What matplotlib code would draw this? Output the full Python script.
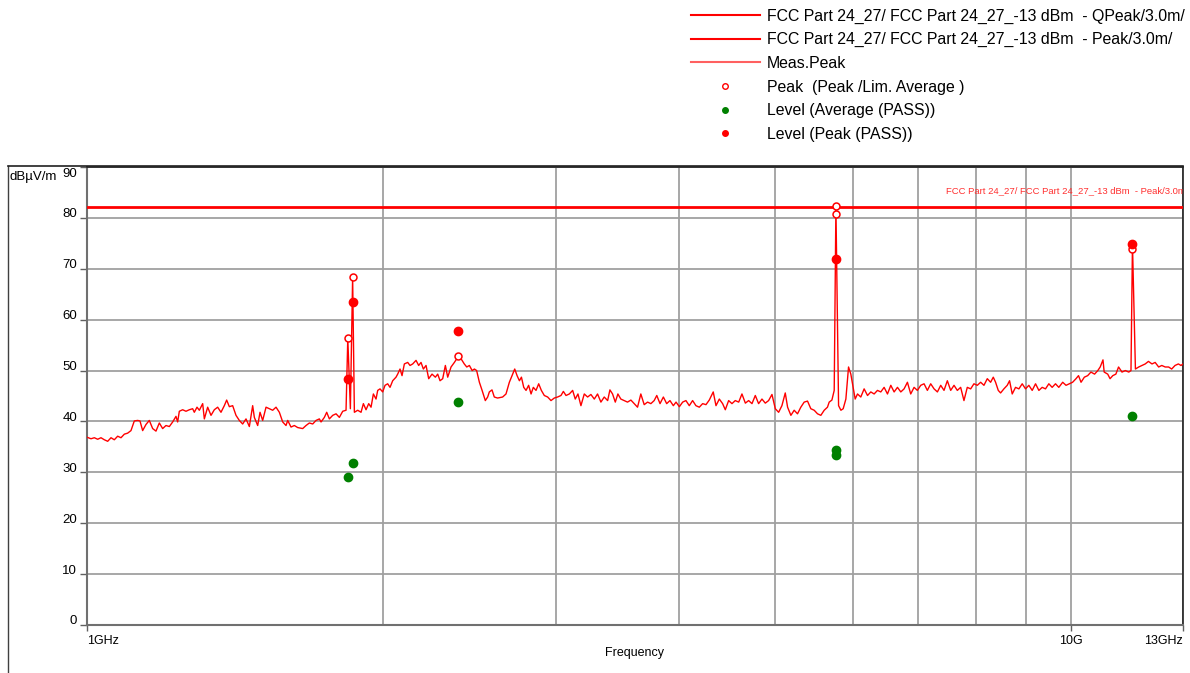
import matplotlib
matplotlib.use("Agg")
import matplotlib.pyplot as plt
import matplotlib.transforms as mtransforms
from matplotlib.lines import Line2D
import numpy as np

plt.rcParams['font.family'] = ['Liberation Sans', 'DejaVu Sans']

freq = [1.000, 1.0094, 1.0173, 1.0253, 1.0333, 1.0414, 1.0496, 1.0578, 1.0660, 1.0744,
        1.0828, 1.0913, 1.0998, 1.1084, 1.1171, 1.1259, 1.1320, 1.1391, 1.1480, 1.1570,
        1.1661, 1.1752, 1.1844, 1.1937, 1.2030, 1.2125, 1.2220, 1.2315, 1.2363, 1.2412,
        1.2509, 1.2607, 1.2706, 1.2805, 1.2855, 1.2936, 1.3007, 1.3109, 1.3160, 1.3263,
        1.3367, 1.3471, 1.3577, 1.3683, 1.3790, 1.3866, 1.3953, 1.4062, 1.4172, 1.4283,
        1.4395, 1.4508, 1.4622, 1.4736, 1.4794, 1.4910, 1.4992, 1.5085, 1.5204, 1.5323,
        1.5443, 1.5564, 1.5686, 1.5809, 1.5932, 1.5995, 1.6120, 1.6246, 1.6373, 1.6566,
        1.6696, 1.6827, 1.6959, 1.7092, 1.7225, 1.7293, 1.7428, 1.7524, 1.7633, 1.7772,
        1.7911, 1.8051, 1.8193, 1.8335, 1.8410, 1.8522, 1.8620, 1.8696, 1.8842, 1.8990,
        1.9094, 1.9213, 1.9334, 1.9440, 1.9546, 1.9668, 1.9745, 1.9853, 1.9977, 2.0087,
        2.0212, 2.0323, 2.0450, 2.0610, 2.0690, 2.0804, 2.0902, 2.1016, 2.1181, 2.1297,
        2.1430, 2.1598, 2.1733, 2.1852, 2.1972, 2.2110, 2.2248, 2.2422, 2.2598, 2.2722,
        2.2846, 2.2989, 2.3133, 2.3260, 2.3442, 2.3626, 2.3811, 2.400, 2.418, 2.432,
        2.447, 2.463, 2.476, 2.489, 2.505, 2.521, 2.540, 2.554, 2.564, 2.580,
        2.594, 2.614, 2.645, 2.666, 2.687, 2.704, 2.721, 2.736, 2.751, 2.764,
        2.779, 2.794, 2.811, 2.827, 2.842, 2.860, 2.878, 2.896, 2.916, 2.939,
        2.962, 2.985, 3.008, 3.032, 3.049, 3.068, 3.092, 3.116, 3.135, 3.155,
        3.177, 3.202, 3.227, 3.252, 3.278, 3.303, 3.329, 3.355, 3.382, 3.400,
        3.421, 3.443, 3.464, 3.488, 3.515, 3.543, 3.571, 3.599, 3.627, 3.655,
        3.684, 3.713, 3.742, 3.771, 3.794, 3.823, 3.853, 3.883, 3.913, 3.944,
        3.969, 4.000, 4.031, 4.062, 4.094, 4.126, 4.158, 4.191, 4.224, 4.257,
        4.290, 4.330, 4.358, 4.392, 4.426, 4.454, 4.489, 4.524, 4.559, 4.596,
        4.631, 4.668, 4.704, 4.741, 4.778, 4.815, 4.853, 4.891, 4.929, 4.968,
        5.007, 5.046, 5.085, 5.125, 5.153, 5.193, 5.233, 5.274, 5.315, 5.357,
        5.399, 5.441, 5.484, 5.527, 5.570, 5.614, 5.657, 5.680, 5.716, 5.747,
        5.770, 5.806, 5.838, 5.869, 5.906, 5.943, 5.975, 5.999, 6.036, 6.069,
        6.116, 6.164, 6.213, 6.261, 6.310, 6.359, 6.409, 6.459, 6.510, 6.561,
        6.612, 6.664, 6.716, 6.768, 6.821, 6.874, 6.928, 6.982, 7.037, 7.092,
        7.147, 7.203, 7.260, 7.317, 7.374, 7.431, 7.489, 7.548, 7.607, 7.666,
        7.726, 7.786, 7.847, 7.909, 7.970, 8.033, 8.096, 8.159, 8.223, 8.287,
        8.339, 8.384, 8.437, 8.483, 8.549, 8.616, 8.663, 8.717, 8.785, 8.854,
        8.923, 8.993, 9.063, 9.134, 9.206, 9.278, 9.350, 9.423, 9.497, 9.571,
        9.646, 9.721, 9.810, 9.887, 9.964, 10.04, 10.12, 10.18, 10.24, 10.32,
        10.40, 10.48, 10.57, 10.65, 10.71, 10.78, 10.81, 10.90, 10.96, 11.03,
        11.11, 11.18, 11.27, 11.36, 11.45, 11.51, 11.55, 11.63, 11.72, 11.81,
        11.90, 11.99, 12.09, 12.18, 12.28, 12.37, 12.47, 12.57, 12.66, 12.76,
        12.86, 12.94, 13.00]
level = [36.9, 36.6, 36.8, 36.5, 36.8, 36.4, 36.1, 36.8, 36.4, 37.1,
         36.8, 37.5, 37.7, 38.2, 40.1, 40.2, 40.1, 38.2, 39.4, 40.2,
         38.6, 38.1, 39.7, 38.6, 39.2, 39.0, 39.9, 41.0, 39.9, 42.0,
         42.3, 42.0, 42.3, 42.5, 41.8, 42.8, 42.2, 43.5, 40.5, 42.8,
         41.2, 42.3, 42.8, 41.8, 43.1, 44.2, 42.9, 43.1, 41.2, 40.2,
         39.5, 40.5, 39.0, 43.1, 40.8, 39.2, 41.8, 40.2, 42.8, 42.5,
         42.2, 42.8, 41.8, 39.9, 39.2, 40.2, 38.9, 39.2, 38.8, 38.6,
         39.2, 39.7, 39.5, 40.2, 40.5, 39.9, 40.8, 41.8, 40.5, 41.2,
         41.5, 40.8, 42.0, 42.2, 56.3, 42.5, 68.4, 41.8, 42.2, 41.8,
         43.5, 42.3, 43.5, 42.8, 45.4, 44.4, 46.1, 46.4, 45.8, 47.1,
         47.4, 46.7, 48.0, 48.7, 49.3, 50.3, 49.0, 51.3, 51.6, 51.0,
         51.3, 52.0, 51.0, 51.6, 50.3, 51.0, 48.4, 49.3, 48.7, 49.3,
         48.0, 48.4, 51.0, 48.7, 50.7, 51.6, 52.6, 52.3, 51.3, 50.7,
         51.0, 50.0, 50.3, 50.0, 47.7, 46.1, 44.1, 44.8, 45.8, 46.2,
         44.8, 44.6, 44.8, 45.4, 47.7, 49.0, 50.3, 49.0, 48.0, 48.7,
         46.7, 46.1, 47.1, 45.4, 46.7, 46.1, 47.4, 46.1, 45.1, 44.8,
         44.1, 44.6, 44.8, 45.1, 45.9, 45.1, 45.4, 46.1, 44.4, 45.4,
         43.1, 45.4, 44.8, 45.3, 44.4, 45.4, 43.8, 44.8, 44.1, 46.2,
         45.4, 43.8, 45.4, 44.4, 44.1, 43.8, 44.2, 43.5, 42.8, 45.4,
         43.3, 43.8, 43.5, 44.1, 45.1, 43.5, 44.8, 43.5, 44.1, 43.1,
         43.8, 42.9, 43.8, 44.1, 43.1, 44.1, 43.1, 42.8, 43.5, 43.3,
         44.2, 45.8, 43.1, 44.4, 43.5, 42.3, 44.1, 43.5, 44.1, 43.8,
         45.4, 43.6, 44.1, 43.5, 45.1, 43.5, 44.4, 43.6, 44.1, 45.3,
         42.5, 41.8, 43.1, 45.6, 42.8, 41.2, 42.2, 41.5, 42.8, 43.8,
         44.0, 42.5, 42.2, 41.5, 41.2, 42.2, 42.8, 43.8, 44.2, 46.1,
         82.3, 43.1, 42.2, 42.5, 44.4, 50.7, 49.3, 47.4, 44.4, 45.4,
         44.8, 46.4, 45.1, 45.8, 45.4, 46.1, 45.8, 46.7, 45.4, 47.1,
         45.8, 46.7, 45.8, 46.4, 47.7, 45.4, 46.7, 46.1, 47.1, 47.4,
         46.1, 47.4, 46.4, 45.8, 47.1, 46.1, 48.0, 46.1, 47.1, 46.1,
         46.7, 44.1, 46.7, 46.4, 47.4, 47.1, 47.7, 47.1, 48.4, 47.7,
         48.7, 47.7, 46.1, 45.6, 46.4, 47.1, 48.0, 45.4, 46.7, 46.4,
         47.4, 46.4, 47.1, 46.1, 47.4, 46.1, 46.7, 46.4, 47.4, 46.7,
         47.4, 46.7, 47.7, 47.1, 47.4, 47.7, 48.4, 49.0, 47.7, 48.7,
         49.0, 49.7, 49.3, 50.0, 50.7, 52.1, 49.7, 49.3, 48.4, 49.0,
         49.3, 50.7, 49.7, 50.0, 49.7, 50.0, 74.9, 50.3, 50.7, 51.0,
         51.3, 51.8, 51.3, 51.6, 50.7, 51.0, 50.7, 50.7, 50.3, 51.0,
         51.3, 51.0, 51.3]

limit_level = 82.2

# final measurement points
pk_freq = [1.841, 1.862, 2.383, 5.770, 5.770, 11.55]
pk_level = [56.3, 68.4, 52.8, 82.3, 80.7, 73.9]
lvl_pk_freq = [1.841, 1.862, 2.383, 5.770, 11.55]
lvl_pk_level = [48.3, 63.5, 57.7, 71.9, 74.9]
lvl_av_freq = [1.841, 1.862, 2.383, 5.770, 5.770, 11.55]
lvl_av_level = [29.0, 31.8, 43.9, 34.3, 33.5, 41.1]

legend_labels = ['FCC Part 24_27/ FCC Part 24_27_-13 dBm  - QPeak/3.0m/',
                 'FCC Part 24_27/ FCC Part 24_27_-13 dBm  - Peak/3.0m/',
                 'Meas.Peak',
                 'Peak  (Peak /Lim. Average )',
                 'Level (Average (PASS))',
                 'Level (Peak (PASS))']

fig = plt.figure(figsize=(11.9, 6.73), dpi=100)
ax = fig.add_axes([87/1190, 1-625/673, (1183-87)/1190, (625-167)/673])

ax.set_xscale('log')
ax.set_xlim(1, 13)
ax.set_ylim(0, 90)

ax.set_yticks(np.arange(0, 91, 10))
ax.set_xticks([1, 10, 13])
ax.set_xticklabels(['1GHz', '10G', '13GHz'])
ax.set_xticks([2, 3, 4, 5, 6, 7, 8, 9], minor=True)
ax.xaxis.set_minor_formatter(plt.NullFormatter())
for lab, ha in zip(ax.get_xticklabels(), ['left', 'center', 'right']):
    lab.set_ha(ha)
ax.tick_params(axis='x', which='major', length=4, width=1, color='#606060', pad=3, labelsize=9)
ax.tick_params(axis='x', which='minor', length=0)
ax.tick_params(axis='y', length=5, width=1, color='#606060', pad=2, labelsize=9.5)

# y labels sit a little above their grid lines, the top one inside the box
for lab in ax.get_yticklabels():
    dy = -6 / 100 if lab.get_text() == '90' else 5 / 100
    lab.set_transform(lab.get_transform() + mtransforms.ScaledTranslation(0, dy, fig.dpi_scale_trans))

ax.grid(True, which='both', color='#a0a0a0', lw=1.3)
ax.set_axisbelow(True)
for s in ['left', 'bottom']:
    ax.spines[s].set_color('#707070')
    ax.spines[s].set_linewidth(1.5)
for s in ['top', 'right']:
    ax.spines[s].set_color('#202020')
    ax.spines[s].set_linewidth(1.2)

ax.plot(freq, level, color='#ff0000', lw=1.0, zorder=3)
ax.axhline(limit_level, color='#ff0000', lw=2, zorder=4)
ax.text(7.466, limit_level + 2.2, legend_labels[1], color='#ff3030', fontsize=6.8,
        ha='left', va='bottom', clip_on=True)

ax.plot(pk_freq, pk_level, 'o', ms=5, mfc='white', mec='#ff0000', mew=1.1, zorder=5)
ax.plot(lvl_pk_freq, lvl_pk_level, 'o', ms=6, color='#ff0000', zorder=6)
ax.plot(lvl_av_freq, lvl_av_level, 'o', ms=6, color='#008000', zorder=6)

ax.set_xlabel('Frequency', fontsize=9, labelpad=0)
fig.text(10/1190, 1-177/673, 'dBµV/m', fontsize=9.5, va='center')

# outer frame
fig.add_artist(Line2D([8/1190, 8/1190], [0, 1-166/673], color='#404040', lw=1))
fig.add_artist(Line2D([8/1190, 1183/1190], [1-166/673, 1-166/673], color='#202020', lw=1.2))

handles = [Line2D([], [], color='#ff0000', lw=1.5),
           Line2D([], [], color='#ff0000', lw=1.5),
           Line2D([], [], color='#ff6060', lw=1.5),
           Line2D([], [], ls='', marker='o', ms=4, mfc='white', mec='#ff0000', mew=1),
           Line2D([], [], ls='', marker='o', ms=4, color='#008000'),
           Line2D([], [], ls='', marker='o', ms=4, color='#ff0000')]
fig.legend(handles, legend_labels, loc='upper left', bbox_to_anchor=(681/1190, 1 + 1/673),
           frameon=False, fontsize=11.4, handlelength=4.4, handletextpad=0.42,
           labelspacing=0.545, borderaxespad=0.2)

fig.savefig('out.png', dpi=100)
